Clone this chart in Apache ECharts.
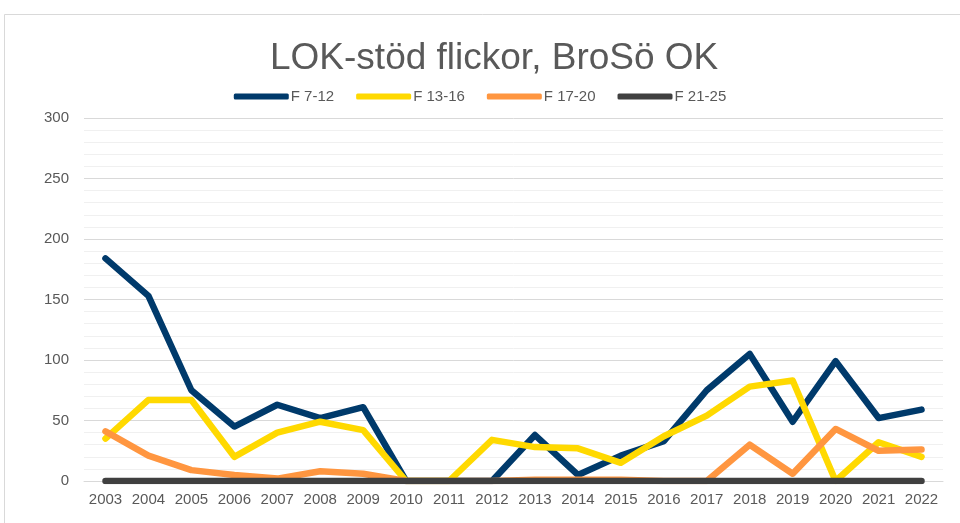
<!DOCTYPE html>
<html>
<head>
<meta charset="utf-8">
<script src="https://cdn.jsdelivr.net/npm/echarts@6/dist/echarts.min.js"></script>
<style>
  html, body { margin: 0; padding: 0; background: #fff; }
  #chart { width: 960px; height: 523px; }
</style>
</head>
<body>
<div id="chart"></div>
<script>
const years = ['2003', '2004', '2005', '2006', '2007', '2008', '2009', '2010', '2011', '2012',
  '2013', '2014', '2015', '2016', '2017', '2018', '2019', '2020', '2021', '2022']
const f7_12 = [184, 153, 75, 45, 63, 52, 61, 0, 0, 0, 38, 5, 21, 33, 75, 105, 49, 99, 52, 59]
const f13_16 = [35, 67, 67, 20, 40, 49, 42, 0, 0, 34, 28, 27, 15, 37, 54, 78, 83, 0, 32, 20]
const f17_20 = [41, 21, 9, 5, 2, 8, 6, 0, 0, 0, 1, 1, 1, 0, 0, 30, 6, 43, 25, 26]
const f21_25 = [0, 0, 0, 0, 0, 0, 0, 0, 0, 0, 0, 0, 0, 0, 0, 0, 0, 0, 0, 0]
const yTicks = [0, 300, 50]

const colors = ['#003A6B', '#FFD900', '#FF9640', '#404040']
const names = ['F 7-12', 'F 13-16', 'F 17-20', 'F 21-25']
const values = [f7_12, f13_16, f17_20, f21_25]

const chart = echarts.init(document.getElementById('chart'))

const series = names.map((name, i) => ({
  name: name,
  type: 'line',
  data: values[i],
  symbol: 'none',
  color: colors[i],
  lineStyle: { width: 6.5, color: colors[i], cap: 'round', join: 'round' },
  emphasis: { disabled: true }
}))

const option = {
  animation: false,
  backgroundColor: '#fff',
  title: {
    text: 'LOK-stöd flickor, BroSö OK',
    left: 265,
    top: 35,
    textStyle: {
      fontFamily: 'Liberation Sans, Arial',
      fontSize: 37,
      fontWeight: 'normal',
      color: '#595959'
    }
  },
  legend: {
    top: 84,
    left: 'center',
    itemWidth: 55,
    itemHeight: 6,
    itemGap: 22,
    icon: 'roundRect',
    data: names,
    textStyle: { fontFamily: 'Liberation Sans, Arial', fontSize: 15, color: '#595959', padding: [0, 0, 0, -3] }
  },
  graphic: [{
    type: 'rect',
    silent: true,
    shape: { x: 4.5, y: 14.5, width: 1000, height: 600 },
    style: { fill: 'none', stroke: '#d9d9d9', lineWidth: 1 }
  }],
  grid: { left: 84, right: 17, top: 118, bottom: 42 },
  xAxis: {
    type: 'category',
    data: years,
    boundaryGap: true,
    axisLine: { show: true, lineStyle: { color: '#d9d9d9' } },
    axisTick: { show: false },
    axisLabel: { fontFamily: 'Liberation Sans, Arial', fontSize: 15, color: '#595959', margin: 11, interval: 0 }
  },
  yAxis: {
    type: 'value',
    min: yTicks[0],
    max: yTicks[1],
    interval: yTicks[2],
    axisLine: { show: false },
    axisTick: { show: false },
    axisLabel: { fontFamily: 'Liberation Sans, Arial', fontSize: 15, color: '#595959', margin: 15 },
    splitLine: { show: true, lineStyle: { color: '#d9d9d9', width: 1 } },
    minorTick: { show: false, splitNumber: 5 },
    minorSplitLine: { show: true, lineStyle: { color: '#f0f0f0', width: 1 } }
  },
  series: series
}

chart.setOption(option)
</script>
</body>
</html>
